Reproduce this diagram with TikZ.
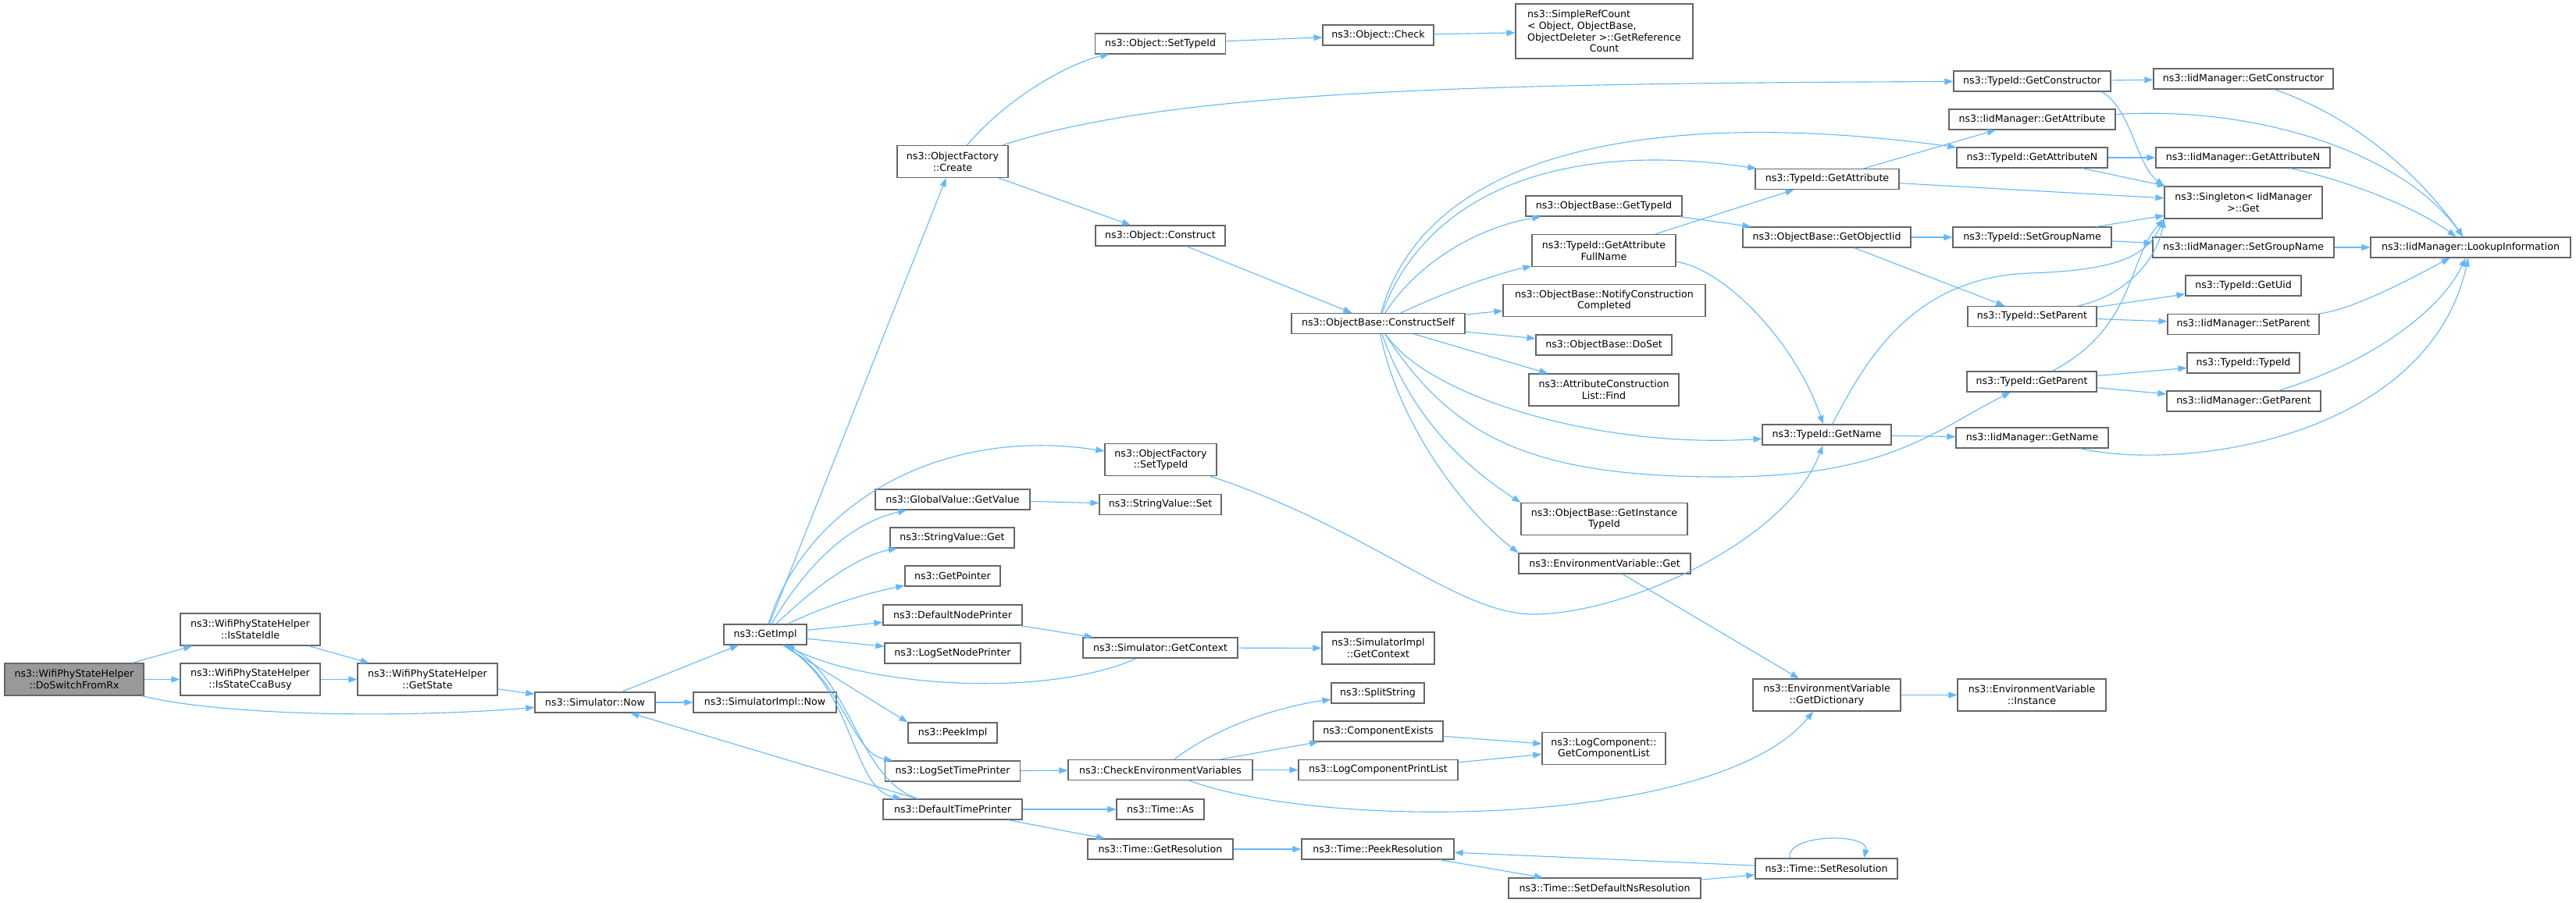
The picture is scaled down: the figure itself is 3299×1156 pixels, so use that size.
\documentclass[tikz,border=0pt]{standalone}
\usepackage{fontspec}
\setmainfont{DejaVu Sans}
\usetikzlibrary{arrows.meta}
\definecolor{callblue}{HTML}{63B8FF}
\definecolor{boxgray}{HTML}{666666}
\definecolor{rootgray}{HTML}{999999}
\tikzset{every node/.style={draw=boxgray, fill=white, line width=1.2pt, inner xsep=5pt, inner ysep=2pt, align=center, minimum height=26pt, font=\fontsize{12.6}{14.7}\selectfont}}
\tikzset{fn/.style={minimum width=#1pt}, fn2/.style={minimum width=#1pt, minimum height=41pt}}
\tikzset{call/.style={draw=callblue, line width=1.1pt, -{Triangle[length=11pt,width=8pt]}}}
\tikzset{every edge/.style={call}}

\begin{document}
\begin{tikzpicture}[x=1pt, y=-1pt]
  \useasboundingbox (0,0) rectangle (3299,1156);

  \node[fn2=178, fill=rootgray] (rx) at (95,870.5) {ns3::WifiPhyStateHelper\\::DoSwitchFromRx};
  \node[fn2=179] (idle) at (320.5,806.5) {ns3::WifiPhyStateHelper\\::IsStateIdle};
  \node[fn2=179] (cca) at (320.5,870.5) {ns3::WifiPhyStateHelper\\::IsStateCcaBusy};
  \node[fn2=179] (getstate) at (547.5,870.5) {ns3::WifiPhyStateHelper\\::GetState};
  \node[fn=154] (now) at (762,900) {ns3::Simulator::Now};
  \node[fn=183] (implnow) at (979.5,900) {ns3::SimulatorImpl::Now};
  \node[fn=106] (getimpl) at (980,813) {ns3::GetImpl};

  \node[fn2=142] (create) at (1220,207) {ns3::ObjectFactory\\::Create};
  \node[fn=198] (getvalue) at (1220,640) {ns3::GlobalValue::GetValue};
  \node[fn=159] (svget) at (1219.5,689) {ns3::StringValue::Get};
  \node[fn=122] (getptr) at (1220,738) {ns3::GetPointer};
  \node[fn=178] (nodeprinter) at (1220,788) {ns3::DefaultNodePrinter};
  \node[fn=174] (lognodeprinter) at (1220,837) {ns3::LogSetNodePrinter};
  \node[fn=114] (peekimpl) at (1220,939) {ns3::PeekImpl};
  \node[fn=173] (logtimeprinter) at (1220,988) {ns3::LogSetTimePrinter};
  \node[fn=178] (timeprinter) at (1220,1037) {ns3::DefaultTimePrinter};

  \node[fn=167] (osettid) at (1486,56) {ns3::Object::SetTypeId};
  \node[fn=166] (construct) at (1486,302) {ns3::Object::Construct};
  \node[fn2=143] (fsettid) at (1486.5,589) {ns3::ObjectFactory\\::SetTypeId};
  \node[fn=156] (svset) at (1486,646.5) {ns3::StringValue::Set};
  \node[fn=198] (getcontext) at (1486,830) {ns3::Simulator::GetContext};
  \node[fn=236] (checkenv) at (1486,986.5) {ns3::CheckEnvironmentVariables};
  \node[fn=112] (timeas) at (1486,1037) {ns3::Time::As};
  \node[fn=186] (getres) at (1486,1088) {ns3::Time::GetResolution};

  \node[fn=142] (check) at (1765,45) {ns3::Object::Check};
  \node[fn=222] (cself) at (1765,414.5) {ns3::ObjectBase::ConstructSelf};
  \node[fn2=144] (implcontext) at (1765,830.5) {ns3::SimulatorImpl\\::GetContext};
  \node[fn=119] (splitstring) at (1764.5,888) {ns3::SplitString};
  \node[fn=166] (compexists) at (1765,937) {ns3::ComponentExists};
  \node[fn=204] (printlist) at (1765,986.5) {ns3::LogComponentPrintList};
  \node[fn=195] (peekres) at (1764.5,1088) {ns3::Time::PeekResolution};

  \node[fn=227, minimum height=70pt] (refcount) at (2054.5,40) {\rlap{ns3::SimpleRefCount}\hphantom{ObjectDeleter >::GetReference}\\\rlap{< Object, ObjectBase,}\hphantom{ObjectDeleter >::GetReference}\\ObjectDeleter >::GetReference\\Count};
  \node[fn=200] (obgettid) at (2054,264) {ns3::ObjectBase::GetTypeId};
  \node[fn2=184] (fullname) at (2054,321) {ns3::TypeId::GetAttribute\\FullName};
  \node[fn2=259] (notify) at (2054.5,385) {ns3::ObjectBase::NotifyConstruction\\Completed};
  \node[fn=174] (doset) at (2054,442) {ns3::ObjectBase::DoSet};
  \node[fn2=192] (find) at (2054,499.5) {ns3::AttributeConstruction\\List::Find};
  \node[fn2=213] (instancetid) at (2054.5,665) {ns3::ObjectBase::GetInstance\\TypeId};
  \node[fn=220] (envget) at (2055,722) {ns3::EnvironmentVariable::Get};
  \node[fn2=158] (complist) at (2054,959) {ns3::LogComponent::\\GetComponentList};
  \node[fn=246] (setdefres) at (2055,1138) {ns3::Time::SetDefaultNsResolution};

  \node[fn=184] (tgetattr) at (2340,229.5) {ns3::TypeId::GetAttribute};
  \node[fn=215] (getiid) at (2339.5,304) {ns3::ObjectBase::GetObjectIid};
  \node[fn=165] (tgetname) at (2339.5,557) {ns3::TypeId::GetName};
  \node[fn2=189] (getdict) at (2339.5,890.5) {ns3::EnvironmentVariable\\::GetDictionary};
  \node[fn=182] (setres) at (2339,1113) {ns3::Time::SetResolution};

  \node[fn=201] (tgetctor) at (2602.5,104) {ns3::TypeId::GetConstructor};
  \node[fn=213] (igetattr) at (2602.5,153) {ns3::IidManager::GetAttribute};
  \node[fn=193] (tgetattrn) at (2602.5,202) {ns3::TypeId::GetAttributeN};
  \node[fn=203] (tsetgroup) at (2602.5,304) {ns3::TypeId::SetGroupName};
  \node[fn=165] (tsetparent) at (2602.5,405.5) {ns3::TypeId::SetParent};
  \node[fn=166] (tgetparent) at (2602,489) {ns3::TypeId::GetParent};
  \node[fn=195] (igetname) at (2602.5,561) {ns3::IidManager::GetName};
  \node[fn2=190] (instance) at (2602,890.5) {ns3::EnvironmentVariable\\::Instance};

  \node[fn=230] (igetctor) at (2873,101) {ns3::IidManager::GetConstructor};
  \node[fn=223] (igetattrn) at (2872.5,202) {ns3::IidManager::GetAttributeN};
  \node[fn2=202] (singleton) at (2873,259.5) {ns3::Singleton< IidManager\\>::Get};
  \node[fn=232] (isetgroup) at (2873,317) {ns3::IidManager::SetGroupName};
  \node[fn=148] (getuid) at (2873,366) {ns3::TypeId::GetUid};
  \node[fn=194] (isetparent) at (2873,415.5) {ns3::IidManager::SetParent};
  \node[fn=144] (typeid) at (2873,465) {ns3::TypeId::TypeId};
  \node[fn=197] (igetparent) at (2873.5,514) {ns3::IidManager::GetParent};

  \node[fn=256] (lookup) at (3164,317) {ns3::IidManager::LookupInformation};

  \path (rx) edge (idle);
  \path (rx) edge (cca);
  \draw[call] (rx) .. controls (290,918) and (520,920) .. (now);

  \path (idle) edge (getstate);
  \path (cca) edge (getstate);
  \path (getstate) edge (now);

  \path (now) edge (getimpl);
  \path (now) edge (implnow);

  \path (getimpl) edge (create);
  \draw[call] (getimpl) .. controls (1030,650) and (1200,545) .. (fsettid);
  \draw[call] (getimpl) .. controls (1035,720) and (1090,670) .. (getvalue);
  \draw[call] (getimpl) .. controls (1045,750) and (1100,712) .. (svget);
  \draw[call] (getimpl) .. controls (1060,775) and (1110,760) .. (getptr);
  \path (getimpl) edge (nodeprinter);
  \path (getimpl) edge (lognodeprinter);
  \path (getimpl) edge (peekimpl.north west);
  \draw[call] (getimpl) .. controls (1080,870) and (1090,965) .. (logtimeprinter);
  \draw[call] (getimpl) .. controls (1095,880) and (1090,1010) .. (timeprinter);

  \draw[call] (create) .. controls (1300,115) and (1380,78) .. (osettid);
  \draw[call] (create) .. controls (1500,115) and (1900,107) .. (tgetctor);
  \path (create) edge (construct);

  \path (osettid) edge (check);
  \path (check) edge (refcount);
  \path (construct) edge (cself);

  \draw[call] (cself) .. controls (1830,180) and (2150,140) .. (tgetattrn);
  \draw[call] (cself) .. controls (1830,240) and (2010,180) .. (tgetattr);
  \draw[call] (cself) .. controls (1820,330) and (1900,290) .. (obgettid);
  \draw[call] (cself) .. controls (1860,370) and (1920,350) .. (fullname);
  \path (cself) edge (notify);
  \path (cself) edge (doset);
  \path (cself) edge (find);
  \draw[call] (cself) .. controls (1830,510) and (2050,575) .. (tgetname);
  \draw[call] (cself) .. controls (1860,560) and (1960,612) .. (2212,611) .. controls (2420,610) and (2480,550) .. (tgetparent);
  \draw[call] (cself) .. controls (1810,540) and (1880,600) .. (instancetid.north west);
  \draw[call] (cself) .. controls (1790,540) and (1870,650) .. (envget.north west);

  \path (fullname) edge (tgetattr);
  \draw[call] (fullname) .. controls (2210,345) and (2300,440) .. (tgetname);
  \path (obgettid) edge (getiid);
  \path (getiid) edge (tsetgroup);
  \path (getiid) edge (tsetparent);

  \path (tgetattr) edge (igetattr);
  \path (tgetattr) edge (singleton);
  \path (tgetattrn) edge (igetattrn);
  \path (tgetattrn) edge (singleton);
  \path (tgetctor) edge (igetctor);
  \draw[call] ([xshift=-12pt]tgetctor.south east) .. controls (2730,140) and (2735,210) .. (singleton.north west);

  \draw[call] (igetctor) .. controls (3030,155) and (3110,240) .. (lookup);
  \draw[call] (igetattr) .. controls (2900,135) and (3080,200) .. (lookup);
  \draw[call] (igetattrn) .. controls (3020,235) and (3100,270) .. (lookup);

  \path (tsetgroup) edge (singleton);
  \path (tsetgroup) edge (isetgroup);
  \path (isetgroup) edge (lookup);

  \path (tsetparent) edge (getuid);
  \path (tsetparent) edge (isetparent);
  \draw[call] (tsetparent) .. controls (2735,375) and (2765,320) .. (singleton.south west);
  \draw[call] (isetparent) .. controls (3020,395) and (3100,350) .. (lookup);

  \path (tgetparent) edge (typeid);
  \path (tgetparent) edge (igetparent);
  \draw[call] (tgetparent) .. controls (2735,420) and (2725,330) .. (singleton.south west);
  \draw[call] (igetparent) .. controls (3050,460) and (3130,390) .. (lookup);

  \path (tgetname) edge (igetname);
  \draw[call] (tgetname) .. controls (2390,460) and (2450,355) .. (2600,350) .. controls (2720,346) and (2750,325) .. (singleton.south west);
  \draw[call] (igetname) .. controls (2800,605) and (3110,560) .. (lookup);

  \draw[call] (fsettid) .. controls (1760,680) and (1870,790) .. (1968,787) .. controls (2090,784) and (2290,690) .. (tgetname);
  \path (getvalue) edge (svset);

  \path (nodeprinter) edge (getcontext);
  \path (getcontext) edge (implcontext);
  \draw[call] (getcontext) .. controls (1340,895) and (1110,880) .. (getimpl);

  \path (logtimeprinter) edge (checkenv);
  \draw[call] (checkenv) .. controls (1560,930) and (1640,905) .. (splitstring);
  \path (checkenv) edge (compexists);
  \path (checkenv) edge (printlist);
  \draw[call] (checkenv) .. controls (1700,1065) and (2200,1060) .. (getdict);
  \path (compexists) edge (complist);
  \path (printlist) edge (complist);

  \path (envget) edge (getdict);
  \path (getdict) edge (instance);

  \path (timeprinter) edge (now);
  \draw[call] (timeprinter) .. controls (1100,1000) and (1090,870) .. (getimpl);
  \path (timeprinter) edge (timeas);
  \path (timeprinter) edge (getres);
  \path (getres) edge (peekres);
  \path (peekres) edge (setdefres);
  \path (setdefres) edge (setres);
  \path (setres) edge (peekres);
  \draw[call] ([xshift=-47pt]setres.north) .. controls +(-5,-32) and +(8,-32) .. ([xshift=48pt]setres.north);
\end{tikzpicture}
\end{document}
